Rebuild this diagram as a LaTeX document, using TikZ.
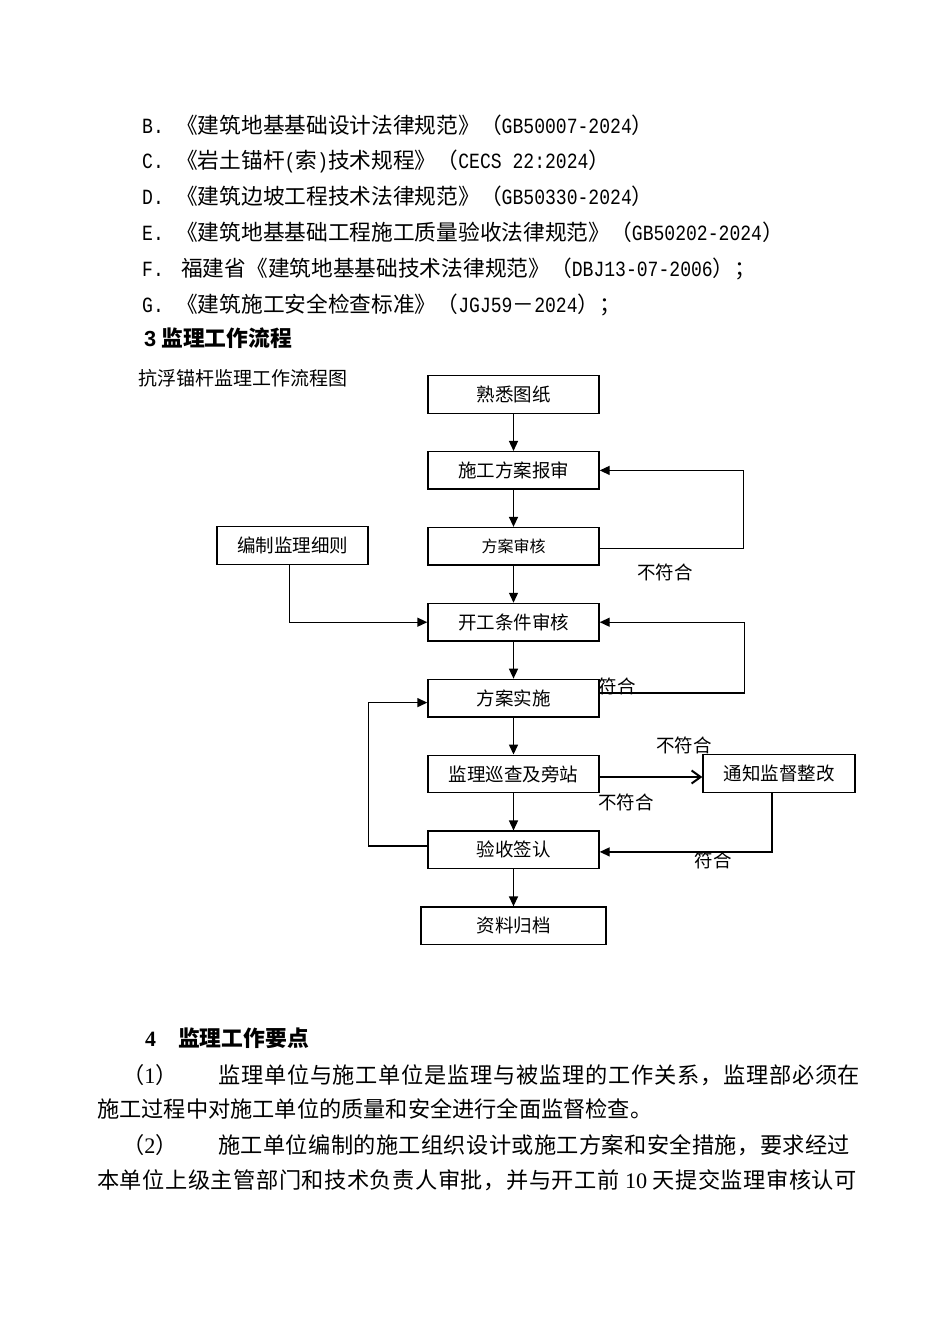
\documentclass[tikz,border=0pt]{standalone}
\usepackage{fontspec}
\setmainfont{Noto Sans CJK SC}
\newfontfamily\monolat[FakeStretch=0.8333]{Liberation Mono}
\newfontfamily\seriflat{Liberation Serif}
\newfontfamily\sanslat{Liberation Sans}
\usepackage{tikz}
\usetikzlibrary{arrows.meta, positioning}

\begin{document}
\begin{tikzpicture}[
    x=1pt, y=-1pt,
    node distance=37pt,
    stepbox/.style={rectangle, draw, line width=1.4pt, minimum width=171pt, minimum height=37.5pt, inner sep=0pt, align=center, font=\fontsize{18.5}{22}\selectfont},
    note/.style={inner sep=0pt, font=\fontsize{18.5}{22}\selectfont},
    reftext/.style={anchor=base west, inner sep=0pt, font=\fontsize{21.7}{26}\selectfont},
    para/.style={anchor=base west, inner sep=0pt, font=\fontsize{22.2}{26}\selectfont},
    headline/.style={anchor=base west, inner sep=0pt, font=\fontsize{21.8}{26}\selectfont\bfseries},
    link/.style={line width=1.4pt, -{Triangle[length=10pt, width=9pt]}},
]
    \useasboundingbox (0,0) rectangle (950,1344);
    \fill[white] (0,0) rectangle (950,1344);

    % Standards list
    \node[reftext] (labB) at (142,133) {\monolat B.};
    \node[reftext] (refB) at (176,133) {《建筑地基基础设计法律规范》（{\monolat GB50007-2024}）};
    \node[reftext] (labC) at (142,168) {\monolat C.};
    \node[reftext] (refC) at (176,168) {《岩土锚杆{\monolat(}索{\monolat)}技术规程》（{\monolat CECS 22:2024}）};
    \node[reftext] (labD) at (142,204) {\monolat D.};
    \node[reftext] (refD) at (176,204) {《建筑边坡工程技术法律规范》（{\monolat GB50330-2024}）};
    \node[reftext] (labE) at (142,240) {\monolat E.};
    \node[reftext] (refE) at (176,240) {《建筑地基基础工程施工质量验收法律规范》（{\monolat GB50202-2024}）};
    \node[reftext] (labF) at (142,276) {\monolat F.};
    \node[reftext] (refF) at (181,276) {福建省《建筑地基基础技术法律规范》（{\monolat DBJ13-07-2006}）；};
    \node[reftext] (labG) at (142,312) {\monolat G.};
    \node[reftext] (refG) at (176,312) {《建筑施工安全检查标准》（{\monolat JGJ59}－{\monolat 2024}）；};

    % Section 3 heading and caption
    \node[headline] (sec3) at (144,346) {{\sanslat 3} 监理工作流程};
    \node[anchor=base west, inner sep=0pt, font=\fontsize{19}{22}\selectfont] (caption) at (138,385) {抗浮锚杆监理工作流程图};

    % Main column
    \node[stepbox] (shuxi) at (513.5,394.5) {熟悉图纸};
    \node[stepbox, below=of shuxi] (baoshen) {施工方案报审};
    \node[stepbox, below=of baoshen, font=\fontsize{16}{20}\selectfont] (shenhe) {方案审核};
    \node[stepbox, below=of shenhe] (kaigong) {开工条件审核};
    \node[stepbox, below=of kaigong] (shishi) {方案实施};
    \node[stepbox, below=of shishi] (xuncha) {监理巡查及旁站};
    \node[stepbox, below=of xuncha] (yanshou) {验收签认};
    \node[stepbox, below=of yanshou, minimum width=185pt] (guidang) {资料归档};

    % Side boxes
    \node[stepbox, minimum width=151pt] (bianzhi) at (292.5,545.5) {编制监理细则};
    \node[stepbox, minimum width=152pt] (tongzhi) at (779,773.5) {通知监督整改};

    % Flow
    \draw[link] (shuxi) -- (baoshen);
    \draw[link] (baoshen) -- (shenhe);
    \draw[link] (shenhe) -- (kaigong);
    \draw[link] (kaigong) -- (shishi);
    \draw[link] (shishi) -- (xuncha);
    \draw[link] (xuncha) -- (yanshou);
    \draw[link] (yanshou) -- (guidang);

    % Loops
    \draw[link] ([yshift=-2pt]shenhe.east) -- ++(144,0) |- (baoshen.east);
    \draw[link] ([xshift=-3pt]bianzhi.south) |- (kaigong.west);
    \draw[link] ([yshift=5pt]shishi.east) -- ++(145,0) |- (kaigong.east);
    \draw[line width=1.4pt, -{Straight Barb[length=9pt, width=13pt, line width=2pt]}] ([yshift=-3pt]xuncha.east) -- ([yshift=-3pt]xuncha.east -| tongzhi.west);
    \draw[link] ([xshift=-7pt]tongzhi.south) |- ([yshift=-2pt]yanshou.east);
    \draw[link] ([yshift=4pt]yanshou.west) -- ++(-59,0) |- ([yshift=-4.5pt]shishi.west);

    % Labels
    \node[note] (nf1) at (665,572) {不符合};
    \node[note] (ok1) at (617,686) {符合};
    \node[note] (nf2) at (684,745) {不符合};
    \node[note] (nf3) at (626,802) {不符合};
    \node[note] (ok2) at (713,860) {符合};

    % Section 4
    \node[headline] (sec4) at (145,1046) {{\seriflat 4}\hspace{22pt}监理工作要点};
    \node[para] (num1) at (122,1083) {（{\seriflat 1}）};
    \node[para] (par1a) at (218,1083) {\addfontfeature{LetterSpace=3.4}监理单位与施工单位是监理与被监理的工作关系，监理部必须在};
    \node[para] (par1b) at (97,1117) {施工过程中对施工单位的质量和安全进行全面监督检查。};
    \node[para] (num2) at (122,1153) {（{\seriflat 2}）};
    \node[para] (par2a) at (218,1153) {\addfontfeature{LetterSpace=1.7}施工单位编制的施工组织设计或施工方案和安全措施，要求经过};
    \node[para] (par2b) at (97,1188) {\addfontfeature{LetterSpace=2.4}本单位上级主管部门和技术负责人审批，并与开工前 {\seriflat 10} 天提交监理审核认可};
\end{tikzpicture}
\end{document}
